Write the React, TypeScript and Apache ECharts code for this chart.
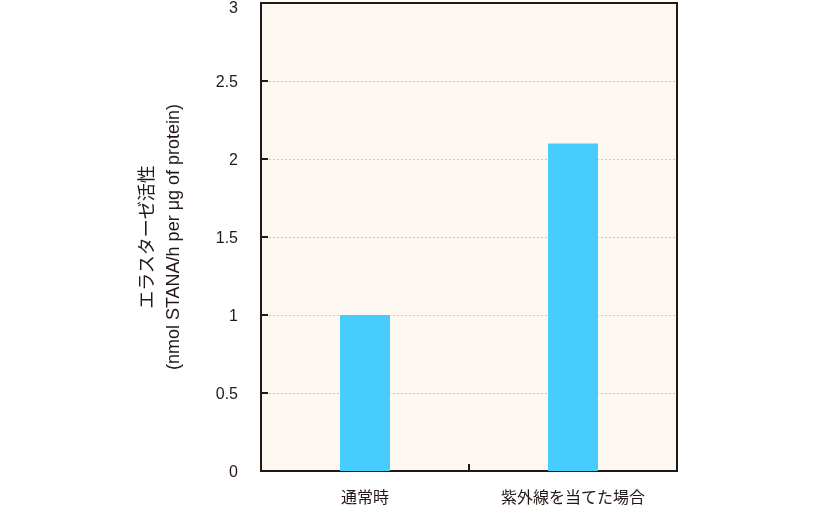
import React, { useEffect, useRef } from "react";
import * as echarts from "echarts";

const categories = ["通常時", "紫外線を当てた場合"];
const values = [1.0, 2.1];
const yTicks = { min: 0, max: 3, interval: 0.5 };
const yName = "エラスターゼ活性\n(nmol STANA/h per μg of protein)";

const FONT = "'Liberation Sans', Arial, 'Noto Sans CJK JP', sans-serif";
const DARK = "#231815";

export default function App() {
  const ref = useRef<HTMLDivElement>(null);
  useEffect(() => {
    const chart = echarts.init(ref.current!, null, { renderer: "svg" });
    chart.setOption({
      animation: false,
      textStyle: { fontFamily: FONT },
      grid: {
        left: 261,
        top: 3,
        width: 416,
        height: 468,
        containLabel: false,
        outerBoundsMode: "none",
        show: true,
        backgroundColor: "#fdf9f2",
        borderColor: DARK,
        borderWidth: 2,
      },
      xAxis: {
        type: "category",
        data: categories,
        axisLine: { lineStyle: { color: DARK, width: 2 } },
        axisTick: { show: true, inside: true, interval: 0, length: 7, lineStyle: { color: DARK, width: 2 } },
        axisLabel: { color: DARK, fontSize: 16, margin: 18, fontFamily: FONT },
      },
      yAxis: {
        type: "value",
        min: yTicks.min,
        max: yTicks.max,
        interval: yTicks.interval,
        name: yName,
        nameLocation: "middle",
        nameRotate: 90,
        nameGap: 75,
        nameTextStyle: { color: DARK, fontSize: 18, lineHeight: 26, fontFamily: FONT },
        axisLine: { show: true, lineStyle: { color: DARK, width: 2 } },
        axisTick: { show: true, inside: true, length: 7, lineStyle: { color: DARK, width: 2 } },
        axisLabel: {
          color: DARK,
          fontSize: 16,
          margin: 23,
          fontFamily: FONT,
          formatter: (v: number) => (v === yTicks.max ? `{top|${v}}` : `${v}`),
          rich: {
            top: { fontSize: 16, color: DARK, fontFamily: FONT, padding: [8, 0, 0, 0] },
          },
        },
        splitLine: {
          show: true,
          showMinLine: false,
          showMaxLine: false,
          lineStyle: { color: "#c8c8c8", type: [2, 2], width: 1 },
        },
      },
      series: [
        {
          type: "bar",
          data: values,
          barWidth: 50,
          itemStyle: { color: "#46cdfe" },
        },
      ],
    });
    return () => chart.dispose();
  }, []);
  return (
    <div
      ref={ref}
      style={{ position: "fixed", left: 0, top: 0, width: 816, height: 509 }}
    />
  );
}
